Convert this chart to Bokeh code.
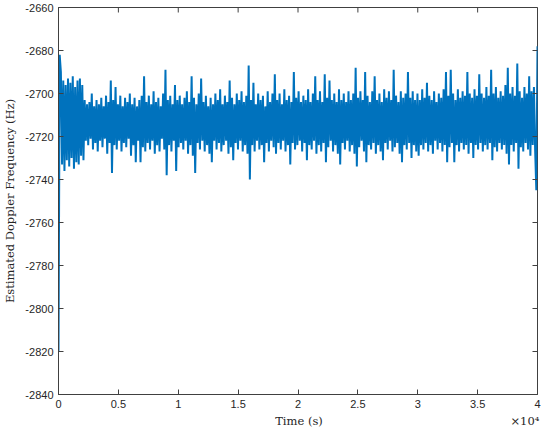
import numpy as np
from bokeh.plotting import figure
from bokeh.models import Range1d, FixedTicker
from bokeh.embed import file_html
from bokeh.resources import INLINE

# ---- data (Hz) ----
start_hz = [-2820.0, -2682.0]          # initial transient at t = 0
end_hz = [-2745.0, -2678.0]            # final transient at t = 4e4 s

peak_hz = [
    -2690, -2694, -2696, -2693, -2695, -2692, -2697, -2694, -2693, -2696,
    -2703, -2705, -2704, -2700, -2706, -2703, -2705, -2702, -2706, -2701,
    -2704, -2694, -2703, -2697, -2705, -2701, -2706, -2702, -2704, -2700,
    -2705, -2702, -2706, -2703, -2701, -2692, -2704, -2701, -2705, -2699,
    -2704, -2702, -2706, -2700, -2689, -2703, -2701, -2705, -2696, -2703,
    -2701, -2705, -2702, -2699, -2704, -2692, -2702, -2705, -2700, -2693,
    -2704, -2701, -2706, -2702, -2705, -2700, -2703, -2698, -2705, -2701,
    -2704, -2694, -2702, -2705, -2700, -2703, -2699, -2704, -2701, -2687,
    -2703, -2695, -2705, -2700, -2703, -2701, -2706, -2699, -2704, -2700,
    -2691, -2703, -2700, -2705, -2698, -2703, -2701, -2704, -2690, -2702,
    -2699, -2704, -2701, -2703, -2698, -2704, -2700, -2692, -2703, -2699,
    -2704, -2691, -2702, -2694, -2703, -2700, -2704, -2698, -2703, -2700,
    -2704, -2699, -2703, -2700, -2688, -2702, -2699, -2703, -2690, -2701,
    -2704, -2699, -2692, -2703, -2700, -2704, -2698, -2702, -2699, -2703,
    -2689, -2701, -2704, -2699, -2702, -2700, -2690, -2702, -2699, -2703,
    -2700, -2703, -2698, -2702, -2695, -2701, -2703, -2699, -2704, -2700,
    -2702, -2698, -2690, -2701, -2689, -2700, -2703, -2698, -2702, -2699,
    -2701, -2690, -2700, -2702, -2698, -2701, -2691, -2700, -2702, -2697,
    -2701, -2689, -2700, -2697, -2702, -2699, -2701, -2696, -2688, -2700,
    -2697, -2701, -2686, -2699, -2702, -2697, -2700, -2692, -2699, -2697,
]

trough_hz = [
    -2733, -2736, -2731, -2734, -2730, -2735, -2732, -2733, -2729, -2731,
    -2722, -2724, -2721, -2726, -2723, -2727, -2722, -2725, -2721, -2728,
    -2723, -2737, -2724, -2726, -2722, -2727, -2723, -2725, -2721, -2729,
    -2724, -2732, -2722, -2732, -2725, -2727, -2723, -2726, -2722, -2728,
    -2724, -2727, -2721, -2726, -2738, -2724, -2727, -2722, -2736, -2725,
    -2723, -2726, -2722, -2728, -2724, -2729, -2737, -2723, -2726, -2722,
    -2727, -2724, -2728, -2732, -2722, -2726, -2723, -2727, -2724, -2722,
    -2728, -2725, -2731, -2723, -2726, -2722, -2727, -2724, -2728, -2740,
    -2724, -2727, -2722, -2726, -2724, -2732, -2723, -2727, -2722, -2725,
    -2728, -2723, -2726, -2722, -2727, -2724, -2733, -2723, -2726, -2724,
    -2722, -2727, -2723, -2731, -2724, -2726, -2722, -2728, -2724, -2727,
    -2723, -2732, -2725, -2722, -2727, -2724, -2728, -2733, -2723, -2726,
    -2722, -2727, -2724, -2728, -2734, -2725, -2722, -2727, -2732, -2724,
    -2726, -2723, -2728, -2724, -2727, -2731, -2723, -2726, -2722, -2727,
    -2725, -2723, -2728, -2732, -2724, -2726, -2723, -2730, -2724, -2727,
    -2729, -2724, -2726, -2723, -2727, -2724, -2728, -2722, -2726, -2723,
    -2727, -2724, -2732, -2725, -2723, -2732, -2724, -2727, -2723, -2726,
    -2724, -2728, -2723, -2730, -2724, -2726, -2723, -2727, -2724, -2726,
    -2723, -2731, -2725, -2727, -2723, -2726, -2724, -2728, -2733, -2724,
    -2727, -2723, -2735, -2725, -2727, -2723, -2726, -2729, -2724, -2726,
]

x_tick_values = [0, 5000, 10000, 15000, 20000, 25000, 30000, 35000, 40000]
x_tick_labels = ["0", "0.5", "1", "1.5", "2", "2.5", "3", "3.5", "4"]
y_tick_values = [-2840, -2820, -2800, -2780, -2760, -2740, -2720, -2700, -2680, -2660]
x_label_text = "Time (s)"
x_exponent_text = "\u00d710\u2074"
y_label_text = "Estimated Doppler Frequency (Hz)"

t_end = 40000.0
y_min, y_max = -2840, -2660

# sequence of samples: transient, alternating peaks/troughs, transient
doppler = list(start_hz)
for hi, lo in zip(peak_hz, trough_hz):
    doppler.extend([hi, lo])
doppler.extend(end_hz)
time_s = np.linspace(0.0, t_end, len(doppler))

BLUE = "#0072BD"
AX = "#404040"
TXT = "#262626"
TICK_FONT = "Liberation Sans"
LABEL_FONT = "DejaVu Serif"

W, H = 542, 430
p = figure(width=W, height=H, output_backend="svg", toolbar_location=None,
           x_range=Range1d(0, t_end), y_range=Range1d(y_min, y_max),
           min_border_left=56, min_border_right=5, min_border_top=7,
           min_border_bottom=0)
p.background_fill_color = "white"
p.border_fill_color = "white"
p.outline_line_color = AX
p.outline_line_width = 1
p.grid.visible = False

p.line(time_s, doppler, line_color=BLUE, line_width=2)

# main axes; the x label row also carries the x10^4 exponent at its right end
EM = "\u2003"
xa = p.xaxis[0]
xa.ticker = FixedTicker(ticks=x_tick_values)
xa.major_label_overrides = {v: s for v, s in zip(x_tick_values, x_tick_labels)}
xa.axis_label = EM * 19 + x_label_text + EM * 16 + "\u00a0" + x_exponent_text
ya = p.yaxis[0]
ya.ticker = FixedTicker(ticks=y_tick_values)
ya.major_label_overrides = {v: str(v) for v in y_tick_values}
ya.axis_label = y_label_text

for ax in (xa, ya):
    ax.axis_line_color = AX
    ax.major_tick_line_color = AX
    ax.major_tick_in = 5
    ax.major_tick_out = 0
    ax.minor_tick_line_color = None
    ax.major_label_text_font = TICK_FONT
    ax.major_label_text_font_size = "11px"
    ax.major_label_text_color = TXT
    ax.axis_label_text_font = LABEL_FONT
    ax.axis_label_text_font_size = "11.5px"
    ax.axis_label_text_font_style = "normal"
    ax.axis_label_text_color = TXT
xa.major_label_standoff = 5
xa.axis_label_standoff = 3
ya.major_label_standoff = 5
ya.axis_label_standoff = 5

# mirrored ticks on the top and right frame edges
p.ray(x=x_tick_values, y=[y_max] * len(x_tick_values), length=5,
      length_units="screen", angle=-np.pi / 2, line_color=AX, line_width=1)
p.ray(x=[t_end] * len(y_tick_values), y=y_tick_values, length=5,
      length_units="screen", angle=np.pi, line_color=AX, line_width=1)

open("out.html", "w").write(file_html(p, INLINE))
